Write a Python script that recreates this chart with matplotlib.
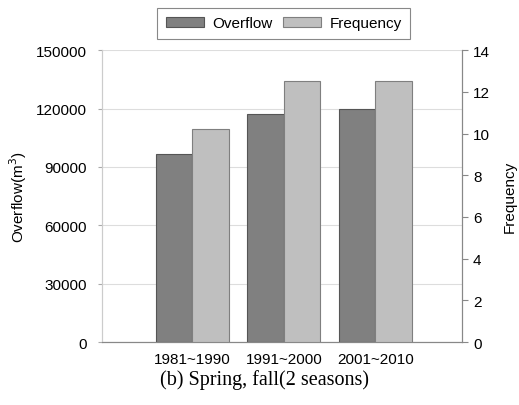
import matplotlib.pyplot as plt
import numpy as np

plt.rcParams["font.family"] = ["Liberation Sans", "DejaVu Sans"]

# decade periods and values
periods = ["1981~1990", "1991~2000", "2001~2010"]
overflow = [96500, 117000, 120000]
frequency = [10.2, 12.5, 12.5]

x = np.arange(len(periods))
width = 0.4

fig = plt.figure(figsize=(5.19, 4.06), dpi=100)
ax = fig.add_axes([0.1965, 0.155, 0.6935, 0.719])
ax2 = ax.twinx()

# overflow bars on the left axis
b1 = ax.bar(x - width / 2, overflow, width, color="#808080",
            edgecolor="#555555", linewidth=0.8, zorder=3, label="Overflow")
# frequency bars on the right axis
b2 = ax2.bar(x + width / 2, frequency, width, color="#bfbfbf",
             edgecolor="#7f7f7f", linewidth=0.8, zorder=3, label="Frequency")

ax.set_xlim(-0.99, 2.95)
ax.set_ylim(0, 150000)
ax.set_yticks(np.arange(0, 150001, 30000))
ax2.set_ylim(0, 14)
ax2.set_yticks(np.arange(0, 15, 2))

ax.set_xticks(x)
ax.set_xticklabels(periods, fontsize=11, family="Liberation Sans")
ax.tick_params(axis="x", length=0, pad=7)
ax.tick_params(axis="y", labelsize=11, length=3, color="#aaaaaa", pad=8)
ax2.tick_params(axis="y", labelsize=11, length=4, color="#888888", pad=4)

ax.yaxis.grid(True, color="#dddddd", linewidth=0.8, zorder=0)
ax.set_axisbelow(True)

for a in (ax, ax2):
    a.spines["top"].set_visible(False)
    a.spines["left"].set_color("#cccccc")
    a.spines["bottom"].set_color("#888888")
    a.spines["right"].set_color("#888888")

ax.set_ylabel("Overflow(m$^3$)", fontsize=11, labelpad=5)
ax2.set_ylabel("Frequency", fontsize=11, labelpad=9)

leg = fig.legend([b1, b2], ["Overflow", "Frequency"], loc="center",
                 bbox_to_anchor=(0.547, 0.94), ncol=2, fontsize=11,
                 fancybox=False, edgecolor="#888888", framealpha=1,
                 handlelength=2.5, handleheight=0.55, columnspacing=0.7,
                 handletextpad=0.55, borderpad=0.55)
leg.get_frame().set_linewidth(0.8)

fig.text(0.509, 0.063, "(b) Spring, fall(2 seasons)", ha="center",
         va="center", fontsize=14.5, family=["Liberation Serif", "DejaVu Serif"])

fig.savefig("out.png", dpi=100)
